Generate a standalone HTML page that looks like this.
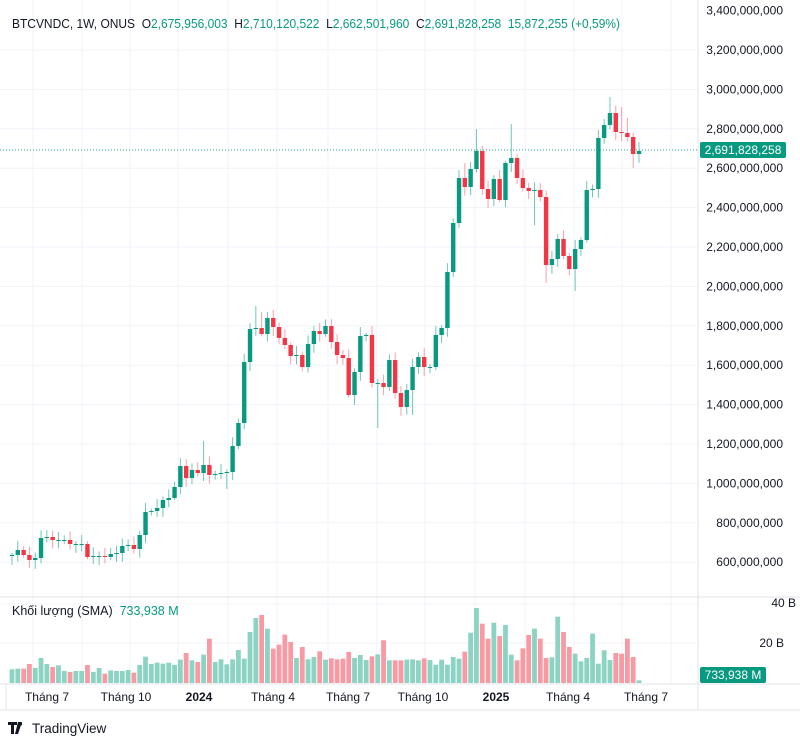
<!DOCTYPE html>
<html><head><meta charset="utf-8"><style>
html,body{margin:0;padding:0;background:#fff;width:800px;height:744px;overflow:hidden}
svg{display:block;font-family:"Liberation Sans",sans-serif}
text{white-space:pre}
</style></head><body>
<svg id="s" width="800" height="744" xmlns="http://www.w3.org/2000/svg">
<rect width="800" height="744" fill="#fff"/>
<g id="grid"></g>
<g id="vol"></g>
<g id="cdl"></g>
<line x1="0" y1="150" x2="698" y2="150" stroke="#22ab94" stroke-width="1" stroke-dasharray="1,2"/>
<line x1="698" y1="0" x2="698" y2="710" stroke="#e0e3eb"/>
<line x1="0" y1="597" x2="800" y2="597" stroke="#e0e3eb"/>
<line x1="0" y1="684" x2="800" y2="684" stroke="#e0e3eb"/>
<line x1="0" y1="710" x2="800" y2="710" stroke="#e0e3eb"/>
<line x1="6" y1="684" x2="6" y2="710" stroke="#e0e3eb"/>
<g id="ax" font-size="12" fill="#131722"></g>
<rect x="700" y="142" width="86" height="16" rx="2" fill="#089981"/>
<text x="743" y="154" font-size="12" fill="#fff" text-anchor="middle">2,691,828,258</text>
<rect x="700" y="667" width="66" height="16" rx="2" fill="#089981"/>
<text x="733" y="679" font-size="12" fill="#fff" text-anchor="middle">733,938 M</text>
<text x="796" y="607" font-size="12" fill="#131722" text-anchor="end">40 B</text>
<text x="784" y="647" font-size="12" fill="#131722" text-anchor="end">20 B</text>
<text x="12" y="28" font-size="12.5" fill="#131722" textLength="608" lengthAdjust="spacingAndGlyphs">BTCVNDC, 1W, ONUS  O<tspan fill="#089981">2,675,956,003</tspan>  H<tspan fill="#089981">2,710,120,522</tspan>  L<tspan fill="#089981">2,662,501,960</tspan>  C<tspan fill="#089981">2,691,828,258</tspan>  <tspan fill="#089981">15,872,255 (+0,59%)</tspan></text>
<text x="12" y="615" font-size="12.5" fill="#131722">Khối lượng (SMA)  <tspan fill="#089981">733,938 M</tspan></text>
<g font-size="12" fill="#131722" text-anchor="middle">
<text x="47" y="701">Tháng 7</text><text x="126" y="701">Tháng 10</text><text x="199" y="701" font-weight="bold">2024</text><text x="273" y="701">Tháng 4</text><text x="348" y="701">Tháng 7</text><text x="423" y="701">Tháng 10</text><text x="496" y="701" font-weight="bold">2025</text><text x="568" y="701">Tháng 4</text><text x="646" y="701">Tháng 7</text>
</g>
<path d="M8 722h9v3h-3v9h-3v-9h-3z M18 722h4l-4 12h-3z" fill="#131722"/>
<circle cx="20.5" cy="724" r="1.6" fill="#131722"/>
<text x="32" y="733" font-size="13.5" fill="#131722">TradingView</text>
</svg>
<script>
(function(){
var NS="http://www.w3.org/2000/svg";
function el(p,t,a){var e=document.createElementNS(NS,t);for(var k in a)e.setAttribute(k,a[k]);p.appendChild(e);return e;}
var g=document.getElementById('grid'),ax=document.getElementById('ax');
var labels=["3,400,000,000","3,200,000,000","3,000,000,000","2,800,000,000","2,600,000,000","2,400,000,000","2,200,000,000","2,000,000,000","1,800,000,000","1,600,000,000","1,400,000,000","1,200,000,000","1,000,000,000","800,000,000","600,000,000"];
for(var i=0;i<labels.length;i++){var y=10.6+i*39.4;
 if(i>0&&y<590)el(g,'line',{x1:0,y1:y,x2:698,y2:y,stroke:'#f0f3fa'});
 var t=el(ax,'text',{x:783,y:y+4,'text-anchor':'end'});t.textContent=labels[i];}
el(g,'line',{x1:0,y1:643,x2:698,y2:643,stroke:'#f0f3fa'});
el(g,'line',{x1:0,y1:604,x2:698,y2:604,stroke:'#f0f3fa'});
[33,82,130,178,228,277,328,377,425,475,525,574,622,671].forEach(function(x){el(g,'line',{x1:x,y1:0,x2:x,y2:684,stroke:'#f0f3fa'});});
var C=[555,550,555,560,558,538,537,540,540,540,544,544,544,557,556,556,557,554,553,546,545,549,535,512,511,508,500,498,487,466,478,470,473,465,475,474,473,472,446,423,
362,329,328,334,318,327,338,345,356,355,367,344,331,334,326,342,355,358,395,372,336,335,383,383,387,360,393,407,390,367,357,367,367,335,328,
272,223,178,187,169,151,189,199,179,200,163,158,178,188,191,190,197,265,259,239,256,269,249,240,190,189,138,125,113,132,133,137,154,151];
var V=[242,240,240,226,238,208,226,235,230,247,250,247,247,229,250,238,255,245,247,247,244,252,229,204,226,222,225,222,229,213,193,215,220,198,150,220,212,227,212,184,210,130,88,79,120,180,168,138,160,208,175,212,205,188,213,209,212,210,190,208,199,214,203,197,155,215,215,215,213,212,215,209,214,228,213,228,205,210,189,132,58,105,150,102,142,109,198,215,179,139,120,150,208,206,84,130,175,195,218,208,135,225,185,214,193,195,150,205,275];
var HI={33:441,42:306,43:312,80:129,86:124,103:97,105:107,106:118,78:163};
var LO={63:428,92:283,97:291,59:405,69:415,37:489,90:225,107:168};
var n=C.length,p=627/(n-1),cg=document.getElementById('cdl'),vg=document.getElementById('vol');
var o=556;
for(var i=0;i<n;i++){
 var x=12+i*p,c=C[i],up=c<=o,col=up?'#089981':'#f23645';
 var bt=Math.min(o,c),bb=Math.max(o,c);
 var w1=2+Math.abs(Math.sin(i*1.7))*7,w2=2+Math.abs(Math.cos(i*2.3))*7;
 var yh=HI[i]!==undefined?HI[i]:bt-w1, yl=LO[i]!==undefined?LO[i]:bb+w2;
 el(cg,'line',{x1:x,y1:yh,x2:x,y2:yl,stroke:up?'#6fc7b6':'#f7a0a8','stroke-width':1});
 el(cg,'rect',{x:x-2.2,y:bt,width:4.4,height:Math.max(1,bb-bt),fill:col});
 var vt=(V[i]!==undefined?V[i]:240);var h=(283-vt)/3;
 el(vg,'rect',{x:x-2.4,y:683-h,width:4.8,height:h,fill:up?'#8bd3c3':'#f89aa3'});
 o=c;}
})();
</script>
</body></html>
